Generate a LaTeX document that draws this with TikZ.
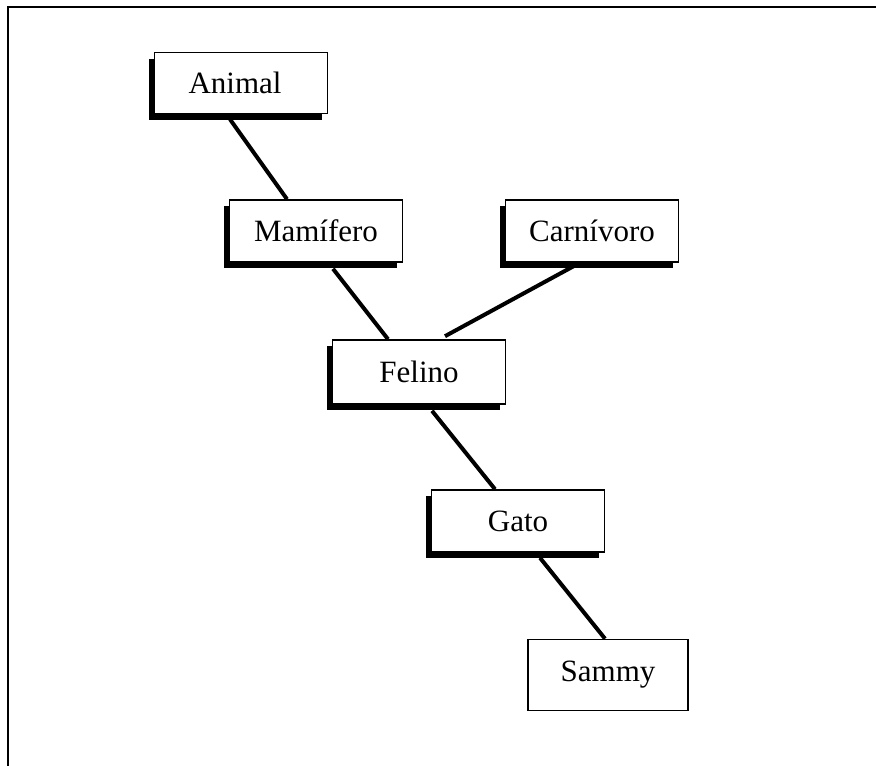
\documentclass[tikz,border=0pt]{standalone}
\usepackage{fontspec}
\setmainfont{Liberation Serif}
\usetikzlibrary{shadows,calc}
\begin{document}
\begin{tikzpicture}[x=1pt,y=-1pt,
  box/.style={draw=black,fill=white,line width=1.6pt,rectangle,inner sep=0pt,
    minimum width=173pt,minimum height=62pt,
    font=\fontsize{31}{36}\selectfont},
  shbox/.style={box,drop shadow={shadow xshift=-6pt,shadow yshift=-6pt,fill=black,opacity=1}},
  link/.style={line width=4pt,line cap=butt}]
\useasboundingbox (0,0) rectangle (876,766);
\draw[line width=2.4pt] (8,766) -- (8,7) -- (876,7);
\node[shbox,minimum height=61pt] (A) at (241,83) {Animal\hspace*{12pt}};
\node[shbox] (M) at (316,231) {Mamífero};
\node[shbox] (C) at (592,231) {Carnívoro};
\node[shbox,minimum height=64pt] (F) at (419,372) {Felino};
\node[shbox] (G) at (518,521) {Gato};
\node[box,minimum width=160pt,minimum height=71pt] (S) at (608,675) {Sammy};
\draw[link] ([shift={(-11,5)}]A.south) -- ([shift={(-29,0)}]M.north);
\draw[link] ([shift={(17,6)}]M.south) -- ([shift={(-31,0)}]F.north);
\draw[link] ([shift={(-14,1)}]C.south) -- ([shift={(26,-3)}]F.north);
\draw[link] ([shift={(13,6)}]F.south) -- ([shift={(-23,0)}]G.north);
\draw[link] ([shift={(22,5)}]G.south) -- ([shift={(-3,0)}]S.north);
\end{tikzpicture}
\end{document}
